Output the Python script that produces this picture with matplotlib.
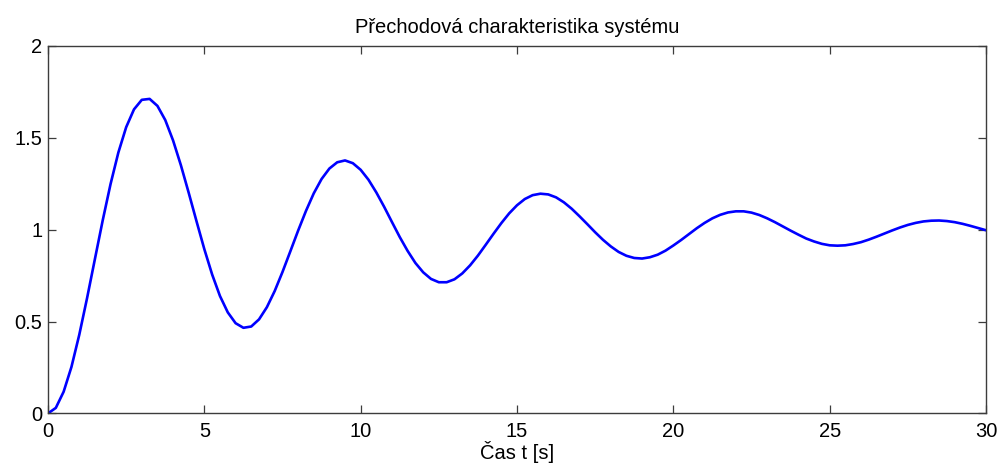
import numpy as np
import matplotlib
matplotlib.use("Agg")
import matplotlib.pyplot as plt

t_start, t_end = 0.0, 30.0
y_values = [
    0.000, 0.030, 0.118, 0.253, 0.428, 0.628, 0.840, 1.051, 1.248, 1.420,
    1.558, 1.655, 1.707, 1.712, 1.674, 1.597, 1.486, 1.351, 1.201, 1.046,
    0.894, 0.756, 0.639, 0.550, 0.491, 0.466, 0.473, 0.512, 0.578, 0.666,
    0.770, 0.882, 0.995, 1.102, 1.198, 1.276, 1.333, 1.367, 1.377, 1.362,
    1.326, 1.272, 1.203, 1.125, 1.042, 0.960, 0.885, 0.819, 0.768, 0.732,
    0.714, 0.714, 0.730, 0.762, 0.806, 0.859, 0.918, 0.978, 1.036, 1.089,
    1.133, 1.167, 1.188, 1.196, 1.192, 1.176, 1.149, 1.114, 1.073, 1.030,
    0.986, 0.945, 0.909, 0.879, 0.858, 0.846, 0.843, 0.850, 0.864, 0.886,
    0.914, 0.944, 0.976, 1.008, 1.037, 1.062, 1.081, 1.094, 1.100, 1.100,
    1.093, 1.080, 1.062, 1.041, 1.018, 0.995, 0.973, 0.952, 0.936, 0.923,
    0.915, 0.913, 0.915, 0.922, 0.932, 0.946, 0.962, 0.979, 0.996, 1.012,
    1.026, 1.037, 1.045, 1.049, 1.050, 1.047, 1.041, 1.032, 1.021, 1.009,
    0.997,
]
x_ticks = [0, 5, 10, 15, 20, 25, 30]
y_ticks = [0, 0.5, 1, 1.5, 2]
y_tick_labels = ["0", "0.5", "1", "1.5", "2"]
title_text = "Přechodová charakteristika systému"
xlabel_text = "Čas t [s]"

t = np.linspace(t_start, t_end, len(y_values))

plt.rcParams['font.family'] = ['Liberation Sans', 'DejaVu Sans']

fig = plt.figure(figsize=(10.04, 4.63), dpi=100)
ax = fig.add_axes([48 / 1004, (463 - 413.4) / 463, (986 - 48) / 1004, (413.4 - 46) / 463])

ax.plot(t, y_values, color='#0000ff', lw=1.9, solid_capstyle='round',
        solid_joinstyle='round')

ax.set_xlim(t_start, t_end)
ax.set_ylim(0, 2)
ax.set_xticks(x_ticks)
ax.set_xticklabels([str(v) for v in x_ticks])
ax.set_yticks(y_ticks)
ax.set_yticklabels(y_tick_labels)

axis_col = '#3c3c3c'
for s in ax.spines.values():
    s.set_color(axis_col)
    s.set_linewidth(1.0)
ax.tick_params(direction='in', length=6, width=0.9, color=axis_col,
               top=True, right=True, labelsize=14.5, labelcolor='black')
ax.tick_params(axis='x', pad=6)
ax.tick_params(axis='y', pad=4)

ax.set_title(title_text, fontsize=14.5, pad=9)
ax.set_xlabel(xlabel_text, fontsize=14.5, labelpad=0)

fig.savefig("out.png", dpi=100)
